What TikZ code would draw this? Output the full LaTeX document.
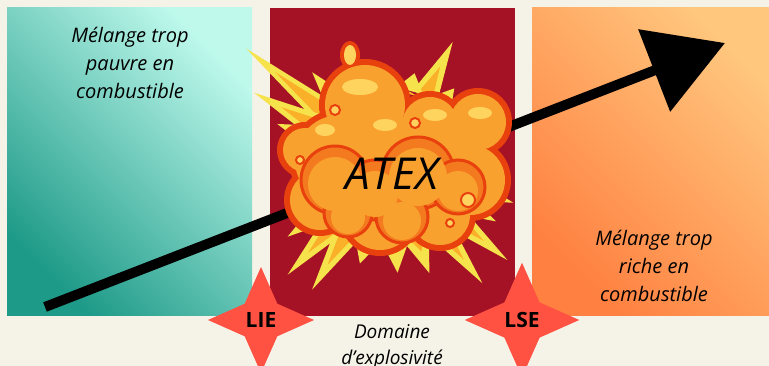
\documentclass[tikz,border=0pt]{standalone}
\usepackage{fontspec}
\setmainfont{Open Sans}
\usetikzlibrary{arrows.meta,shapes.geometric}
\definecolor{atexfond}{HTML}{F5F2E7}
\definecolor{atexbordeaux}{HTML}{A51226}
\definecolor{atexetoile}{HTML}{FF5242}
\definecolor{atexjaune}{HTML}{F6E34C}
\definecolor{atexorange}{HTML}{FBB02A}
\definecolor{atexrouge}{HTML}{E8410E}
\definecolor{atexnuage}{HTML}{F9A12E}
\definecolor{atexfonce}{HTML}{F47A1F}
\definecolor{atexclair}{HTML}{FFD45E}
\definecolor{pauvrebas}{HTML}{1E9A88}
\definecolor{pauvrehaut}{HTML}{BEF9EC}
\definecolor{richebas}{HTML}{FF8040}
\definecolor{richehaut}{HTML}{FFC77E}

\begin{document}
\begin{tikzpicture}[x=1pt,y=-1pt,
  panneau/.style={minimum width=245pt,minimum height=308pt,inner sep=0pt},
  etoile/.style={star,star points=4,star point ratio=2.3,minimum size=106pt,inner sep=0pt,
    fill=atexetoile,font=\fontsize{21}{25}\selectfont\bfseries},
  legende/.style={align=center,font=\fontsize{20}{28}\selectfont\itshape}]
\clip (0,0) rectangle (769,366);
\fill[atexfond] (0,0) rectangle (769,366);

% les trois domaines
\node[panneau,bottom color=pauvrebas,top color=pauvrehaut,shading angle=-45] (pauvre) at (129.5,162) {};
\node[panneau,fill=atexbordeaux] (explo) at (392.5,162) {};
\node[panneau,bottom color=richebas,top color=richehaut,shading angle=-45] (riche) at (654.5,162) {};

% la fleche
\coordinate (depart) at (45,307);
\coordinate (arrivee) at (725,43);
\draw[line width=10pt,-{Triangle[length=76pt,width=86pt]}] (depart) -- (arrivee);

% l'explosion
\begin{scope}[shift={(390,165)}]
\foreach \a/\l in {-141/185,-152/154,-130/121,-119/109,-63/138,-50/100,-75/95,17/129,10/122,39/151,
    52/150,86/108,107/103,122/147,133/150,-172/111,-95/90,-30/100,165/95,70/115,-160/120,28/120,145/125} {
  \fill[atexjaune] ({\a-10}:78) -- (\a:\l) -- ({\a+10}:78) -- cycle;
  \fill[atexorange] ({\a-7}:74) -- (\a:{0.8*\l}) -- ({\a+7}:74) -- cycle;
}
\foreach \cx/\cy/\r in {-50/-5/45,30/0/50,-25/-60/40,40/-40/28,88/-43/28,80/15/35,-70/35/30,-10/50/35,50/50/30,-85/-15/22}
  \fill[atexrouge] (\cx,\cy) circle ({\r+6});
\fill[atexrouge] (-40,-110) ellipse [x radius=10,y radius=14];
\foreach \cx/\cy/\r in {-50/-5/45,30/0/50,-25/-60/40,40/-40/28,88/-43/28,80/15/35,-70/35/30,-10/50/35,50/50/30,-85/-15/22}
  \fill[atexnuage] (\cx,\cy) circle (\r);
\fill[atexclair] (-40,-110) ellipse [x radius=6,y radius=10];
\foreach \cx/\cy/\rx/\ry in {-30/-78/18/8,45/-50/12/6,90/-52/12/6,-65/-35/10/6,-5/-40/12/6}
  \fill[atexclair] (\cx,\cy) ellipse [x radius=\rx,y radius=\ry];
\foreach \cx/\cy/\r in {-55/15/34,-15/25/30,28/8/36,68/22/27,12/52/26,-42/48/24}
  \draw[atexrouge,line width=3pt,fill=atexfonce] (\cx,\cy) circle (\r);
\foreach \cx/\cy/\r in {-55/15/34,-15/25/30,28/8/36,68/22/27,12/52/26,-42/48/24}
  \fill[atexnuage] (\cx,{\cy+4}) circle ({\r-7});
\foreach \cx/\cy/\r in {-90/-5/4,-55/-55/5,25/-42/5,78/35/7,60/58/4}
  \draw[atexrouge,line width=2pt,fill=atexclair] (\cx,\cy) circle (\r);
\end{scope}
\node[font=\fontsize{44}{50}\selectfont\itshape] (atex) at (392,174) {ATEX};

% les limites
\node[etoile] (lie) at (261,320) {LIE};
\node[etoile] (lse) at (522,320) {LSE};

% les textes
\node[legende] (txtpauvre) at (130,63) {Mélange trop\\pauvre en\\combustible};
\node[legende] (txtriche) at (654,266) {Mélange trop\\riche en\\combustible};
\node[legende,font=\fontsize{19}{26}\selectfont\itshape] (txtexplo) at (392,347) {Domaine\\d’explosivité};
\end{tikzpicture}
\end{document}
